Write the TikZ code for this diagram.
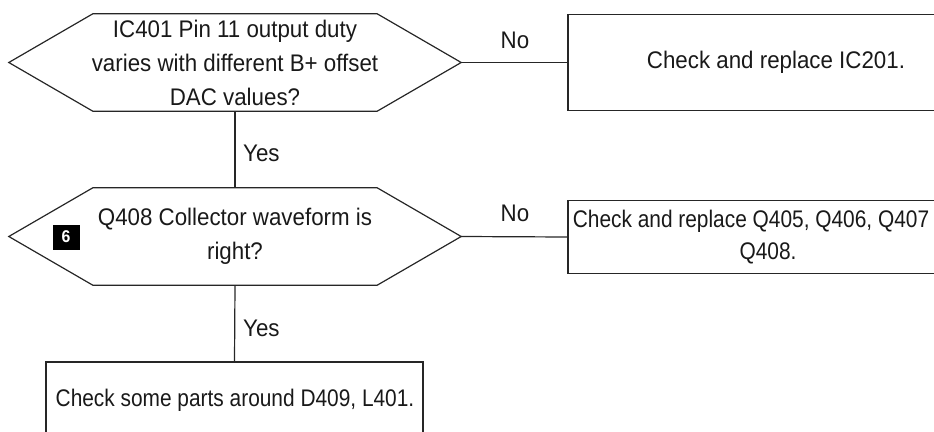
\documentclass[tikz,border=0pt]{standalone}
\usepackage{fontspec}
\setmainfont[FakeStretch=0.93]{Liberation Sans}
\newfontfamily\narrowfont[FakeStretch=0.87]{Liberation Sans}
\begin{document}
\begin{tikzpicture}[x=1pt,y=-1pt,
  every node/.style={font=\fontsize{24}{34}\selectfont, text=black!90},
  ln/.style={line width=1.2pt, draw=black!85},
  hexnode/.style={minimum width=452pt, minimum height=97pt, inner sep=0pt, align=center},
  boxnode/.style={draw=black!85, line width=1.2pt, inner sep=0pt, align=center},
  lbl/.style={inner sep=0pt},
  badge/.style={fill=black, text=white, minimum width=27pt, minimum height=25pt, inner sep=0pt, font=\fontsize{17}{17}\selectfont\bfseries}
]
\useasboundingbox (0,0) rectangle (934,431);
\clip (0,0) rectangle (934,431);
% decisions
\node[hexnode] (q1) at (235,62.5) {IC401 Pin 11 output duty\\varies with different B+ offset\\DAC values?};
\draw[ln] (q1.west) -- ([xshift=84pt]q1.north west) -- ([xshift=-84pt]q1.north east) -- (q1.east) -- ([xshift=-84pt]q1.south east) -- ([xshift=84pt]q1.south west) -- cycle;
\node[hexnode] (q2) at (235,236.5) {Q408 Collector waveform is\\right?};
\draw[ln] (q2.west) -- ([xshift=84pt]q2.north west) -- ([xshift=-84pt]q2.north east) -- (q2.east) -- ([xshift=-84pt]q2.south east) -- ([xshift=84pt]q2.south west) -- cycle;
\node[badge] (b6) at (66,237) {6};
% actions
\node[boxnode, minimum width=416pt, minimum height=96pt] (a1) at (776,62.5) {Check and replace IC201.};
\node[boxnode, minimum width=400pt, minimum height=73pt, font=\fontsize{24}{32}\narrowfont] (a2) at (768,237) {Check and replace Q405, Q406, Q407\rule{34pt}{0pt}\\Q408.};
\node[boxnode, minimum width=377pt, minimum height=90pt] (a3) at (234.5,407) {};
\node[lbl, font=\fontsize{24}{32}\narrowfont] (t3) at (235,400) {Check some parts around D409, L401.};
% connectors
\draw[ln] (q1.east) -- (a1.west);
\draw[ln] (q1.south) -- (q2.north);
\draw[ln] (q2.east) -- (a2.west);
\draw[ln] (q2.south) -- (a3.north);
% labels
\node[lbl, anchor=west] (y1) at (243,153) {Yes};
\node[lbl, anchor=west] (y2) at (243,328) {Yes};
\node[lbl] (n1) at (515,40) {No};
\node[lbl] (n2) at (515,213) {No};
\end{tikzpicture}
\end{document}
